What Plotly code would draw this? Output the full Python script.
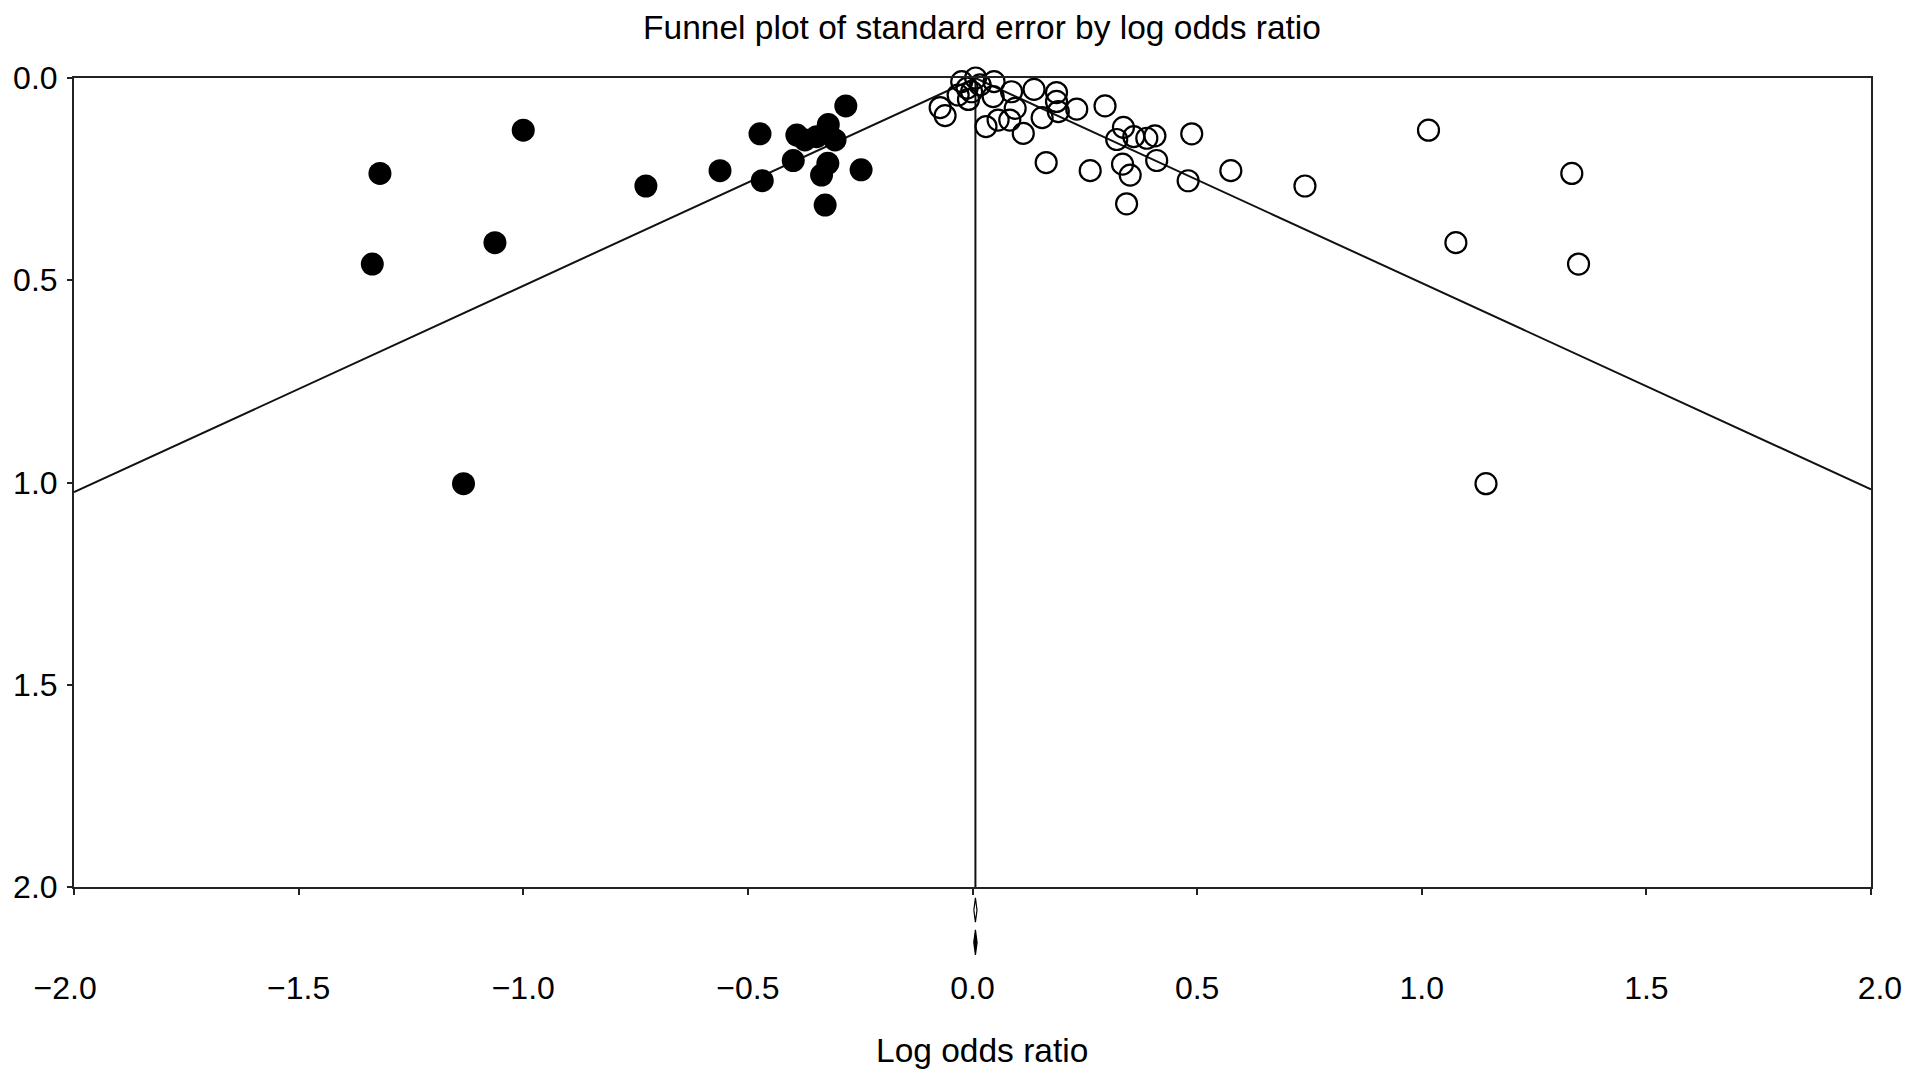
import plotly.graph_objects as go

# ---- data ----
obs_logor = [-0.024, 0.007, -0.012, 0.017, 0.048, -0.072, -0.061, -0.032, -0.009, -0.002,
             0.046, 0.030, 0.057, 0.083, 0.087, 0.095, 0.113, 0.137, 0.155, 0.187,
             0.187, 0.191, 0.232, 0.295, 0.164, 0.262, 0.336, 0.321, 0.359, 0.388,
             0.406, 0.488, 0.334, 0.351, 0.410, 0.480, 0.343, 0.575, 0.740, 1.015,
             1.334, 1.076, 1.349, 1.143]
obs_se = [0.009, 0.000, 0.025, 0.017, 0.009, 0.073, 0.093, 0.042, 0.053, 0.034,
          0.046, 0.120, 0.104, 0.104, 0.034, 0.075, 0.137, 0.028, 0.098, 0.036,
          0.058, 0.083, 0.077, 0.069, 0.209, 0.229, 0.122, 0.152, 0.145, 0.149,
          0.143, 0.138, 0.213, 0.240, 0.204, 0.254, 0.311, 0.229, 0.267, 0.129,
          0.236, 0.407, 0.460, 1.003]

imp_logor = [-1.319, -1.336, -1.000, -1.063, -1.133, -0.727, -0.562, -0.473, -0.468, -0.399,
             -0.391, -0.373, -0.347, -0.321, -0.306, -0.322, -0.336, -0.328, -0.282, -0.248]
imp_se = [0.236, 0.460, 0.129, 0.407, 1.003, 0.267, 0.229, 0.138, 0.254, 0.204,
          0.141, 0.153, 0.145, 0.115, 0.153, 0.211, 0.240, 0.314, 0.069, 0.227]

pooled = 0.0065
funnel_x = [-2.0, 0.0065, 2.0]
funnel_se = [1.024, 0.0, 1.017]
vline_se = [0.0, 2.0]

diamond_center = [0.0065, 0.0065]
diamond_lo = [0.0030, 0.0028]
diamond_hi = [0.0100, 0.0102]
diamond_row = [2.057, 2.137]
diamond_half = [0.030, 0.031]
diamond_fill = ["white", "black"]

x_ticks = [-2.0, -1.5, -1.0, -0.5, 0.0, 0.5, 1.0, 1.5, 2.0]
x_tick_labels = ["\u22122.0\u00a0\u00a0", "\u22121.5", "\u22121.0", "\u22120.5", "0.0",
                 "0.5", "1.0", "1.5", "\u00a0\u00a02.0"]
y_ticks = [0.0, 0.5, 1.0, 1.5, 2.0]
y_tick_labels = ["0.0", "0.5", "1.0", "1.5", "2.0"]

FONT = "Liberation Sans, Arial, sans-serif"
fig = go.Figure()

fig.add_trace(go.Scatter(x=funnel_x, y=funnel_se, mode="lines",
                         line=dict(color="#111111", width=2), hoverinfo="skip",
                         showlegend=False))
fig.add_trace(go.Scatter(x=[pooled, pooled], y=vline_se, mode="lines",
                         line=dict(color="#111111", width=2), hoverinfo="skip",
                         showlegend=False))
fig.add_trace(go.Scatter(x=imp_logor, y=imp_se, mode="markers",
                         marker=dict(symbol="circle", size=23, color="black",
                                     line=dict(width=0)),
                         showlegend=False, cliponaxis=False))
fig.add_trace(go.Scatter(x=obs_logor, y=obs_se, mode="markers",
                         marker=dict(symbol="circle-open", size=21, color="black",
                                     line=dict(width=2.2, color="black")),
                         showlegend=False, cliponaxis=False))
for c, lo, hi, r, h, fc in zip(diamond_center, diamond_lo, diamond_hi,
                               diamond_row, diamond_half, diamond_fill):
    fig.add_trace(go.Scatter(x=[lo, c, hi, c, lo], y=[r, r - h, r, r + h, r],
                             mode="lines", fill="toself", fillcolor=fc,
                             line=dict(color="black", width=1.2),
                             xaxis="x", yaxis="y3", hoverinfo="skip",
                             showlegend=False))

# target pixel geometry (page 1913x1081; page body has an 8px margin)
OFF = 8
W, H = 1913 - OFF, 1081 - OFF
px_left, px_right, px_top, px_main_bottom, px_area_bottom = 74, 1871, 78, 887, 960
L = px_left - OFF
T = px_top - OFF
R = (1913 - px_right)
B = 1081 - px_area_bottom
plot_h = px_area_bottom - px_top
plot_w = px_right - px_left
main_lo = (px_area_bottom - px_main_bottom) / plot_h
y3_top = 2.0 + (px_area_bottom - px_main_bottom) / 404.5

fig.update_layout(
    width=W, height=H,
    margin=dict(l=L, r=R, t=T, b=B, autoexpand=False),
    paper_bgcolor="white", plot_bgcolor="white",
    font=dict(family=FONT, color="black", size=32),
    title=dict(text="Funnel plot of standard error by log odds ratio",
               font=dict(family=FONT, size=33.5, color="black"),
               xref="container", yref="container",
               x=(982 - OFF) / W, y=1 - (27.5 - OFF) / H,
               xanchor="center", yanchor="middle", automargin=False),
    xaxis=dict(range=[-2.0, 2.0], tickvals=x_ticks, ticktext=x_tick_labels,
               showgrid=False, zeroline=False, automargin=False,
               showline=True, linecolor="#222222", linewidth=2, mirror=True,
               ticks="outside", ticklen=6, tickwidth=1.6, tickcolor="#222222",
               tickfont=dict(family=FONT, size=32, color="black"),
               ticklabelstandoff=66, anchor="y"),
    xaxis2=dict(range=[-2.0, 2.0], tickvals=x_ticks, overlaying="x", anchor="y",
                side="bottom", showgrid=False, zeroline=False, showline=False,
                automargin=False,
                showticklabels=False, ticks="inside", ticklen=6, tickwidth=1.6,
                tickcolor="#222222"),
    yaxis=dict(range=[2.0, 0.0], tickvals=y_ticks, ticktext=y_tick_labels,
               domain=[main_lo, 1.0], automargin=False,
               showgrid=False, zeroline=False,
               showline=True, linecolor="#222222", linewidth=2, mirror=True,
               ticks="outside", ticklen=5, tickwidth=1.6, tickcolor="#222222",
               tickfont=dict(family=FONT, size=32, color="black"),
               ticklabelstandoff=3, anchor="x"),
    yaxis2=dict(range=[2.0, 0.0], tickvals=y_ticks, overlaying="y", anchor="x",
                side="left", showgrid=False, zeroline=False, showline=False,
                automargin=False,
                showticklabels=False, ticks="inside", ticklen=5, tickwidth=1.6,
                tickcolor="#222222"),
    yaxis3=dict(range=[y3_top, 2.0], domain=[0.0, main_lo], anchor="x",
                visible=False, showgrid=False, zeroline=False, automargin=False),
    annotations=[dict(text="Log odds ratio", xref="paper", yref="paper",
                      x=(982 - px_left) / plot_w,
                      y=(px_area_bottom - 1050) / plot_h,
                      xanchor="center", yanchor="middle", showarrow=False,
                      font=dict(family=FONT, size=33.5, color="black"))],
)

fig.write_html("out.html")
